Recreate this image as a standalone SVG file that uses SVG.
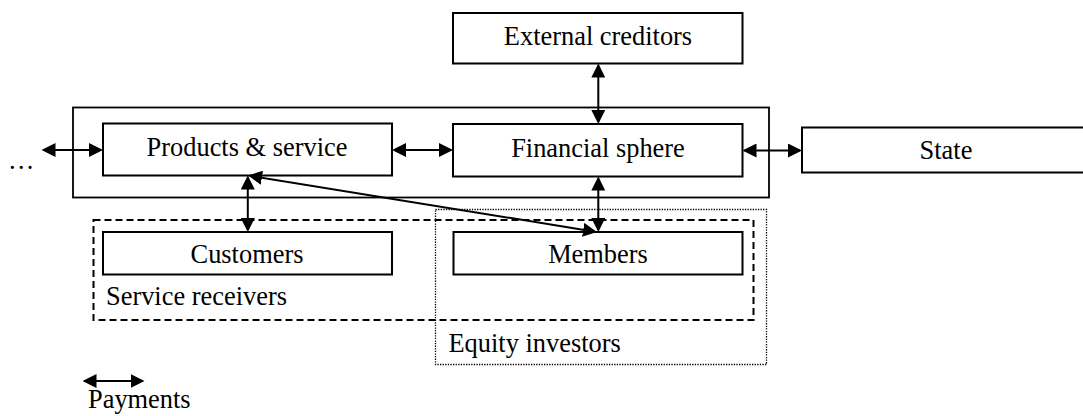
<svg xmlns="http://www.w3.org/2000/svg" width="1083" height="416" viewBox="0 0 1083 416">
<style>
.box{fill:#fff;stroke:#000;stroke-width:2}
.grp{fill:none;stroke:#000;stroke-width:1.8}
.dash{fill:none;stroke:#000;stroke-width:2;stroke-dasharray:7 4}
.dot{fill:none;stroke:#000;stroke-width:1.3;stroke-dasharray:1.3 1.3}
.t{font-family:'Liberation Serif','Times New Roman',serif;font-size:26.4px;fill:#000}
.c{text-anchor:middle}
.con{fill:none;stroke:#000;stroke-width:2;marker-start:url(#ah);marker-end:url(#ah)}
</style>
<defs>
<marker id="ah" markerUnits="userSpaceOnUse" viewBox="0 0 14 14" refX="12" refY="7" markerWidth="14" markerHeight="14" orient="auto-start-reverse">
<path d="M0,0 L14,7 L0,14 z" fill="#000"/>
</marker>
</defs>
<rect width="1083" height="416" fill="#fff"/>
<g id="organisation">
<rect class="grp" x="73" y="107.5" width="696" height="90"/>
</g>
<g id="service-receivers">
<rect class="dash" x="93.5" y="220" width="660" height="100"/>
<text class="t" x="106" y="305">Service receivers</text>
</g>
<g id="equity-investors">
<rect class="dot" x="435.5" y="209.5" width="331" height="155"/>
<text class="t" x="448.5" y="352">Equity investors</text>
</g>
<g id="external-creditors">
<rect class="box" x="453" y="13" width="289.5" height="50.5"/>
<text class="t c" x="598" y="45">External creditors</text>
</g>
<g id="products-service">
<rect class="box" x="103" y="123.5" width="289" height="52"/>
<text class="t c" x="247" y="156">Products &amp; service</text>
</g>
<g id="financial-sphere">
<rect class="box" x="453" y="124" width="289.5" height="52.5"/>
<text class="t c" x="598" y="157">Financial sphere</text>
</g>
<g id="state">
<rect class="box" x="802" y="127.5" width="290" height="45"/>
<text class="t c" x="946" y="159">State</text>
</g>
<g id="customers">
<rect class="box" x="103" y="232" width="289" height="42.5"/>
<text class="t c" x="247" y="263">Customers</text>
</g>
<g id="members">
<rect class="box" x="453.5" y="232" width="289" height="42.5"/>
<text class="t c" x="598" y="263">Members</text>
</g>
<g id="ellipsis">
<text class="t" x="8" y="169">…</text>
</g>
<g id="legend">
<line class="con" x1="84.5" y1="381" x2="142.5" y2="381"/>
<text class="t" x="88" y="407.5">Payments</text>
</g>
<g id="connectors">
<line class="con" x1="43.5" y1="150" x2="101" y2="150"/>
<line class="con" x1="394" y1="150" x2="451" y2="150"/>
<line class="con" x1="744.5" y1="150.5" x2="800" y2="150.5"/>
<line class="con" x1="598.3" y1="65.5" x2="598.3" y2="122"/>
<line class="con" x1="598.3" y1="178.5" x2="598.3" y2="230"/>
<line class="con" x1="247.8" y1="177.5" x2="247.8" y2="230"/>
<line class="con" x1="250" y1="175.8" x2="595" y2="231.7"/>
</g>
</svg>
